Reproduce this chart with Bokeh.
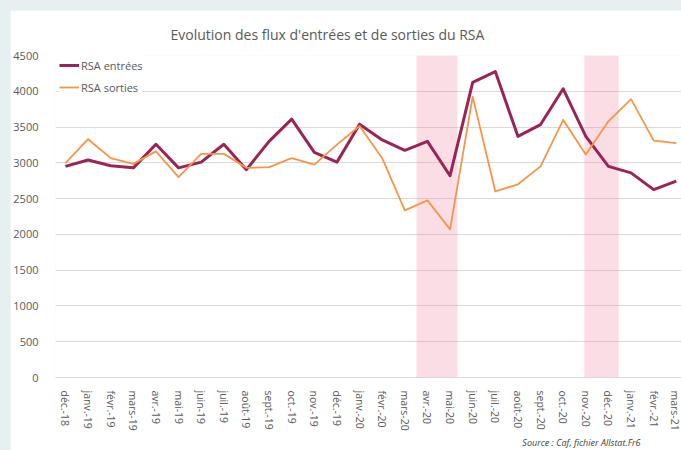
import datetime
import calendar
from bokeh.plotting import figure
from bokeh.models import (FixedTicker, Legend, LegendItem, Range1d, Title)
from bokeh.embed import file_html
from bokeh.resources import INLINE

# ---------------- data ----------------
months = ["déc.-18", "janv.-19", "févr.-19", "mars-19", "avr.-19", "mai-19",
          "juin-19", "juil.-19", "août-19", "sept.-19", "oct.-19", "nov.-19",
          "déc.-19", "janv.-20", "févr.-20", "mars-20", "avr.-20", "mai-20",
          "juin-20", "juil.-20", "août-20", "sept.-20", "oct.-20", "nov.-20",
          "déc.-20", "janv.-21", "févr.-21", "mars-21"]
entrees = [2950, 3040, 2960, 2930, 3260, 2930, 3010, 3260, 2905, 3300, 3610, 3145,
           3010, 3540, 3320, 3175, 3300, 2820, 4125, 4275, 3370, 3535, 4035, 3370,
           2950, 2860, 2625, 2745]
sorties = [2995, 3330, 3065, 2985, 3160, 2800, 3125, 3125, 2930, 2940, 3065, 2975,
           3255, 3515, 3065, 2335, 2475, 2070, 3925, 2600, 2700, 2950, 3600, 3115,
           3580, 3890, 3310, 3275]
yticks = [0, 500, 1000, 1500, 2000, 2500, 3000, 3500, 4000, 4500]
# confinement periods (shaded)
conf_start = ["2020-03-17", "2020-10-30"]
conf_end = ["2020-05-11", "2020-12-15"]
first_month = (2018, 12)

title_text = "Evolution des flux d'entrées et de sorties du RSA"
source_text = "Source : Caf, fichier Allstat.Fr6"

# -------------- helpers ---------------
def month_pos(datestr):
    d = datetime.date.fromisoformat(datestr)
    idx = (d.year - first_month[0]) * 12 + (d.month - first_month[1])
    ndays = calendar.monthrange(d.year, d.month)[1]
    return idx + (d.day - 1) / ndays

x = list(range(len(months)))
band_left = [month_pos(s) for s in conf_start]
band_right = [month_pos(s) for s in conf_end]

FONT = "Open Sans"
GREY = "#595959"

p = figure(width=671, height=440,
           x_range=Range1d(-0.44, 27.23), y_range=Range1d(0, 4500),
           output_backend="svg", toolbar_location=None,
           min_border_left=42, min_border_right=0, min_border_top=44,
           min_border_bottom=73,
           background_fill_color="white", border_fill_color="white",
           outline_line_color=None)
p.margin = (10, 0, 0, 10)

# shaded bands
p.quad(left=band_left, right=band_right, bottom=0, top=4500,
       fill_color="#f08fa8", fill_alpha=0.3, line_color=None)

l1 = p.line(x, entrees, line_color="#9b2456", line_width=3, line_join="round")
l2 = p.line(x, sorties, line_color="#f79646", line_width=1.8, line_join="round")

# axes
p.yaxis.ticker = FixedTicker(ticks=yticks)
p.yaxis.axis_line_color = None
p.yaxis.major_tick_line_color = None
p.yaxis.minor_tick_line_color = None
p.yaxis.major_label_text_font = FONT
p.yaxis.major_label_text_font_size = "11px"
p.yaxis.major_label_text_color = GREY
p.yaxis.major_label_standoff = 11

p.xaxis.ticker = FixedTicker(ticks=x)
p.xaxis.major_label_overrides = {i: m for i, m in zip(x, months)}
p.xaxis.major_label_orientation = "vertical"
p.xaxis.axis_line_color = "#d9d9d9"
p.xaxis.major_tick_line_color = None
p.xaxis.minor_tick_line_color = None
p.xaxis.major_label_text_font = FONT
p.xaxis.major_label_text_font_size = "10.5px"
p.xaxis.major_label_text_color = GREY
p.xaxis.major_label_standoff = 7

p.xgrid.grid_line_color = None
p.ygrid.grid_line_color = "#d9d9d9"
p.ygrid.grid_line_width = 1

# title
t = Title(text=title_text, align="left", offset=115, text_font=FONT,
          text_font_size="14px", text_font_style="normal", text_color=GREY,
          standoff=24)
p.add_layout(t, "above")

# source
s = Title(text=source_text, align="right", offset=41, text_font=FONT,
          text_font_size="9px", text_font_style="italic", text_color="#404040",
          standoff=0)
p.add_layout(s, "below")

legend = Legend(items=[LegendItem(label="RSA entrées", renderers=[l1]),
                       LegendItem(label="RSA sorties", renderers=[l2])],
                location=(4, 280), padding=4, spacing=2, margin=0,
                glyph_width=20, glyph_height=20, label_height=20,
                label_standoff=2,
                label_text_font=FONT, label_text_font_size="11px",
                label_text_color=GREY,
                background_fill_color="white", background_fill_alpha=1.0,
                border_line_color=None)
p.add_layout(legend)

html = file_html(p, INLINE).replace("<body>", '<body style="background-color:#e7f0f1">')
open("out.html", "w").write(html)
